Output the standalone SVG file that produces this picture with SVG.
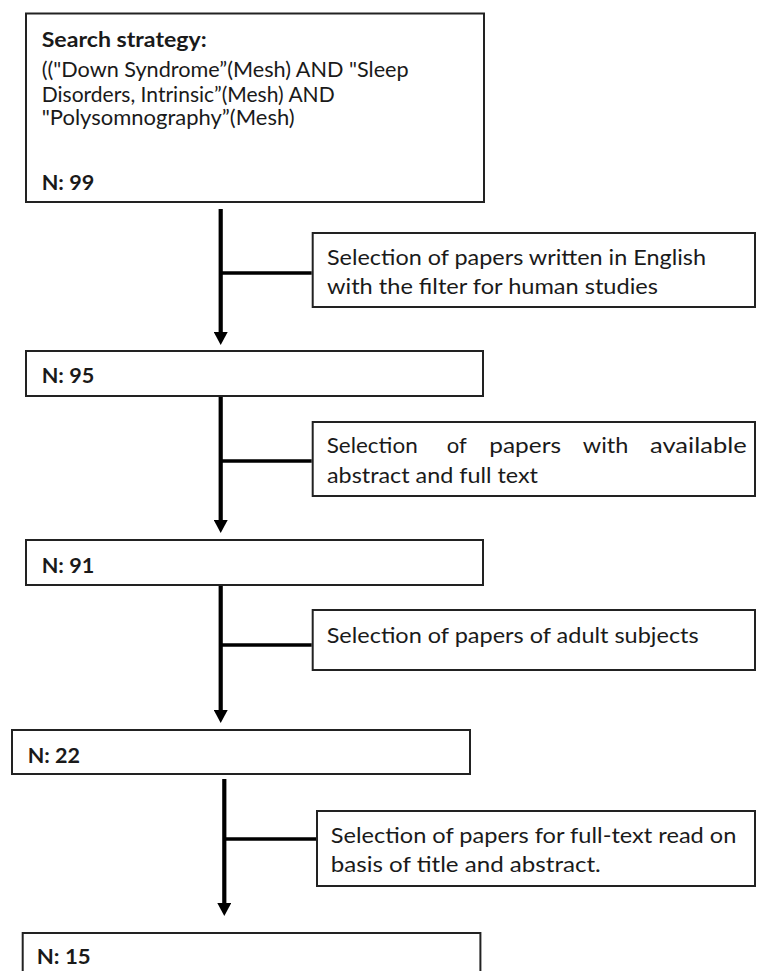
<svg xmlns="http://www.w3.org/2000/svg" width="757" height="971" viewBox="0 0 757 971">
  <style>
    .box { fill: #ffffff; stroke: #222222; stroke-width: 2; }
    .t { font-family: Lato, "Open Sans", "Liberation Sans", sans-serif; font-size: 21.5px; fill: #1a1a1a; }
    .s { font-size: 20.5px; }
    .b { font-weight: 700; font-size: 21px; }
    .main { stroke: #000000; stroke-width: 4.2; fill: none; }
    .branch { stroke: #000000; stroke-width: 3.6; fill: none; }
  </style>
  <defs>
    <marker id="arrow" viewBox="0 0 13 14" refX="0" refY="7" markerWidth="13" markerHeight="14" markerUnits="userSpaceOnUse" orient="auto">
      <path d="M0,0 L13,7 L0,14 z" fill="#000000"/>
    </marker>
  </defs>
  <rect width="757" height="971" fill="#ffffff"/>

  <g id="connectors">
    <line class="main" x1="220.7" y1="209" x2="220.7" y2="332" marker-end="url(#arrow)"/>
    <line class="branch" x1="220.7" y1="273" x2="311.7" y2="273"/>
    <line class="main" x1="220.7" y1="397" x2="220.7" y2="520" marker-end="url(#arrow)"/>
    <line class="branch" x1="220.7" y1="461" x2="311.7" y2="461"/>
    <line class="main" x1="220.7" y1="586" x2="220.7" y2="710" marker-end="url(#arrow)"/>
    <line class="branch" x1="220.7" y1="645" x2="311.7" y2="645"/>
    <line class="main" x1="224.3" y1="779" x2="224.3" y2="903" marker-end="url(#arrow)"/>
    <line class="branch" x1="224.3" y1="839" x2="316" y2="839"/>
  </g>

  <g id="search">
    <rect class="box" x="26" y="13.5" width="458" height="188.5"/>
    <text class="t b" x="41.7" y="47" textLength="165" lengthAdjust="spacingAndGlyphs">Search strategy:</text>
    <text class="t s" x="41.7" y="77" textLength="367" lengthAdjust="spacingAndGlyphs">(("Down Syndrome”(Mesh) AND "Sleep</text>
    <text class="t s" x="41.7" y="101.5" textLength="293" lengthAdjust="spacingAndGlyphs">Disorders, Intrinsic”(Mesh) AND</text>
    <text class="t s" x="41.7" y="125" textLength="253" lengthAdjust="spacingAndGlyphs">"Polysomnography”(Mesh)</text>
    <text class="t b" x="41.7" y="190" textLength="52.6" lengthAdjust="spacingAndGlyphs">N: 99</text>
  </g>

  <g id="filter1">
    <rect class="box" x="312.7" y="233" width="442.3" height="74"/>
    <text class="t" x="327" y="265" textLength="379" lengthAdjust="spacingAndGlyphs">Selection of papers written in English</text>
    <text class="t" x="327" y="294" textLength="331" lengthAdjust="spacingAndGlyphs">with the filter for human studies</text>
  </g>

  <g id="n95">
    <rect class="box" x="26" y="351" width="457" height="45"/>
    <text class="t b" x="41.7" y="383" textLength="52.6" lengthAdjust="spacingAndGlyphs">N: 95</text>
  </g>

  <g id="filter2">
    <rect class="box" x="312.7" y="422" width="442.3" height="74"/>
    <text class="t" x="326.7" y="453" textLength="91" lengthAdjust="spacingAndGlyphs">Selection</text>
    <text class="t" x="446.7" y="453" textLength="20" lengthAdjust="spacingAndGlyphs">of</text>
    <text class="t" x="489.3" y="453" textLength="71.7" lengthAdjust="spacingAndGlyphs">papers</text>
    <text class="t" x="582.7" y="453" textLength="45.6" lengthAdjust="spacingAndGlyphs">with</text>
    <text class="t" x="650" y="453" textLength="96.7" lengthAdjust="spacingAndGlyphs">available</text>
    <text class="t" x="327" y="483" textLength="211" lengthAdjust="spacingAndGlyphs">abstract and full text</text>
  </g>

  <g id="n91">
    <rect class="box" x="26" y="540" width="457" height="45"/>
    <text class="t b" x="41.7" y="573" textLength="52.6" lengthAdjust="spacingAndGlyphs">N: 91</text>
  </g>

  <g id="filter3">
    <rect class="box" x="312.7" y="610" width="442.3" height="60"/>
    <text class="t" x="326.7" y="642.5" textLength="372" lengthAdjust="spacingAndGlyphs">Selection of papers of adult subjects</text>
  </g>

  <g id="n22">
    <rect class="box" x="12" y="730" width="458" height="44"/>
    <text class="t b" x="27.7" y="763" textLength="52.3" lengthAdjust="spacingAndGlyphs">N: 22</text>
  </g>

  <g id="filter4">
    <rect class="box" x="317" y="811" width="438" height="75"/>
    <text class="t" x="330.8" y="843" textLength="405.6" lengthAdjust="spacingAndGlyphs">Selection of papers for full-text read on</text>
    <text class="t" x="330.8" y="872" textLength="270" lengthAdjust="spacingAndGlyphs">basis of title and abstract.</text>
  </g>

  <g id="n15">
    <rect class="box" x="22.7" y="933" width="457.7" height="50"/>
    <text class="t b" x="36.7" y="964" textLength="54" lengthAdjust="spacingAndGlyphs">N: 15</text>
  </g>
</svg>
